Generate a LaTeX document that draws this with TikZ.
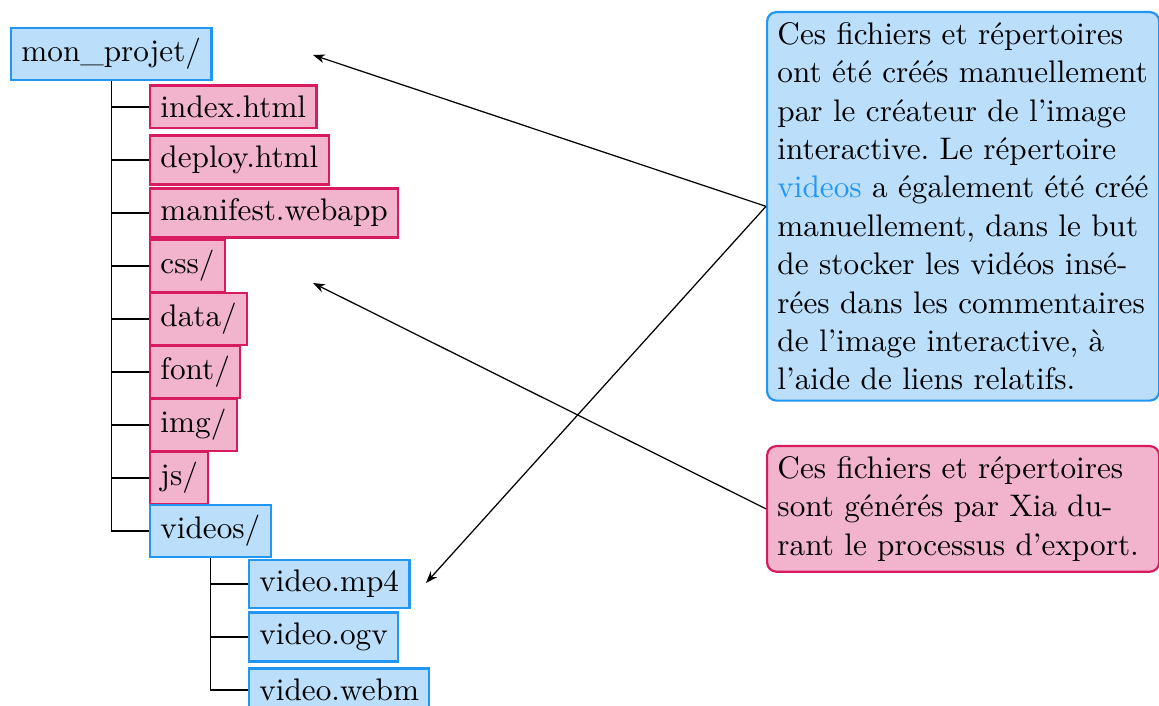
\documentclass[tikz,border=0pt]{standalone}
\usepackage{xcolor}
\usetikzlibrary{arrows.meta}
\definecolor{bfill}{RGB}{187,222,251}
\definecolor{bdraw}{RGB}{33,150,243}
\definecolor{pfill}{RGB}{242,180,204}
\definecolor{pdraw}{RGB}{216,27,96}
\frenchspacing
\begin{document}
\begin{tikzpicture}[x=0.3205pt,y=-0.3205pt,
  bluebox/.style={draw=bdraw,fill=bfill,line width=0.7pt,anchor=west},
  pinkbox/.style={draw=pdraw,fill=pfill,line width=0.7pt,anchor=west},
  branch/.style={draw=black},
  callout/.style={line width=0.7pt,rounded corners=3pt,anchor=north west,text width=119pt,align=left,font=\fontsize{10}{12.3}\selectfont},
  pointer/.style={-{Stealth[length=3.8pt,width=2.8pt,inset=1.2pt]}}]
\useasboundingbox (0,0) rectangle (1159,706);
% tree nodes
\node[bluebox] (root) at (10,54) {mon\_projet/};
\node[pinkbox] (index) at (149,107) {index.html};
\node[pinkbox] (deploy) at (149,160) {deploy.html};
\node[pinkbox] (manifest) at (149,213) {manifest.webapp};
\node[pinkbox] (css) at (149,266) {css/};
\node[pinkbox] (data) at (149,319) {data/};
\node[pinkbox] (font) at (149,372) {font/};
\node[pinkbox] (img) at (149,425) {img/};
\node[pinkbox] (js) at (149,478) {js/};
\node[bluebox] (videos) at (149,531) {videos/};
\node[bluebox] (mp4) at (248,584) {video.mp4};
\node[bluebox] (ogv) at (248,637) {video.ogv};
\node[bluebox] (webm) at (248,690) {video.webm};
% tree branches
\foreach \c in {index,deploy,manifest,css,data,font,img,js,videos}
  \draw[branch] (root.south) |- (\c.west);
\foreach \c in {mp4,ogv,webm}
  \draw[branch] (videos.south) |- (\c.west);
% callouts
\node[callout,draw=bdraw,fill=bfill] (note1) at (766,11) {Ces fichiers et répertoires\\ ont été créés manuellement\\ par le créateur de l'image\\ interactive. Le répertoire\\ {\color{bdraw}videos} a également été créé\\ manuellement, dans le but\\ de stocker les vidéos insé-\\ rées dans les commentaires\\ de l'image interactive, à\\ l'aide de liens relatifs.};
\node[callout,draw=pdraw,fill=pfill] (note2) at (766,445) {Ces fichiers et répertoires\\ sont générés par Xia du-\\ rant le processus d'export.};
% pointers
\coordinate (t1) at (313,55);
\coordinate (t2) at (426,583);
\coordinate (t3) at (313,283);
\draw[pointer] (note1.west) -- (t1);
\draw[pointer] (note1.west) -- (t2);
\draw[pointer] (note2.west) -- (t3);
\end{tikzpicture}
\end{document}
